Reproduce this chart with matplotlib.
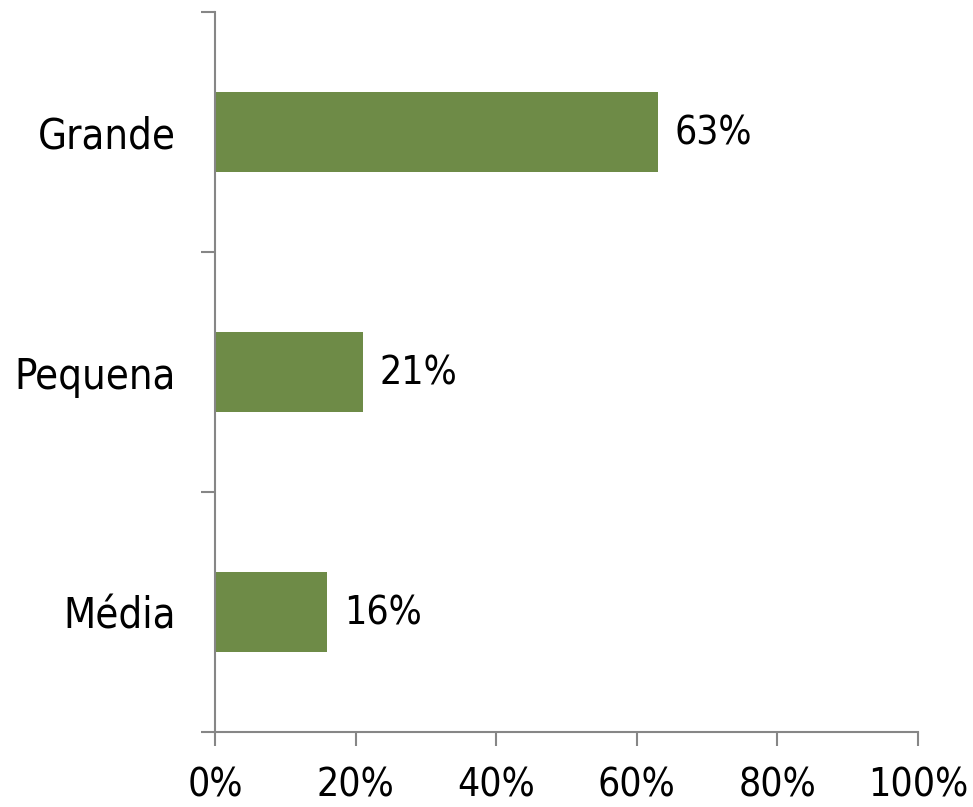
import matplotlib
matplotlib.use("Agg")
from matplotlib import pyplot
import numpy

categories = ["Média", "Pequena", "Grande"]
values = [16, 21, 63]
x_ticks = [0, 20, 40, 60, 80, 100]
x_labels = ["0%", "20%", "40%", "60%", "80%", "100%"]

pyplot.rcParams["font.family"] = ["DejaVu Sans"]
pyplot.rcParams["font.stretch"] = "condensed"

fig = pyplot.figure(figsize=(9.73, 8.07), dpi=100)
ax = fig.add_axes([215 / 973, 75 / 807, 703 / 973, 720 / 807])

y_pos = numpy.arange(len(categories))
rects = ax.barh(y_pos, values, height=0.33, color="#6e8b47")
for rect in rects:
    width = rect.get_width()
    ax.annotate("%d%%" % width, xy=(width, rect.get_y() + rect.get_height() / 2), xytext=(12, -1),
                textcoords="offset points", ha="left", va="center", fontsize=28)

ax.set_xlim(0, 100)
ax.set_ylim(-0.5, len(categories) - 0.5)
ax.set_xticks(x_ticks)
ax.set_xticklabels(x_labels, fontsize=28)
ax.set_yticks(y_pos)
ax.set_yticklabels(categories, fontsize=30)
ax.set_yticks(numpy.arange(len(categories) + 1) - 0.5, minor=True)

for side in ["top", "right"]:
    ax.spines[side].set_visible(False)
for side in ["left", "bottom"]:
    ax.spines[side].set_color("#868686")
    ax.spines[side].set_linewidth(1.5)

ax.tick_params(axis="x", length=10, width=1.5, color="#868686", pad=15)
ax.tick_params(axis="y", which="major", length=0, pad=28)
ax.tick_params(axis="y", which="minor", length=10, width=1.5, color="#868686")

fig.savefig("out.png", dpi=100)
